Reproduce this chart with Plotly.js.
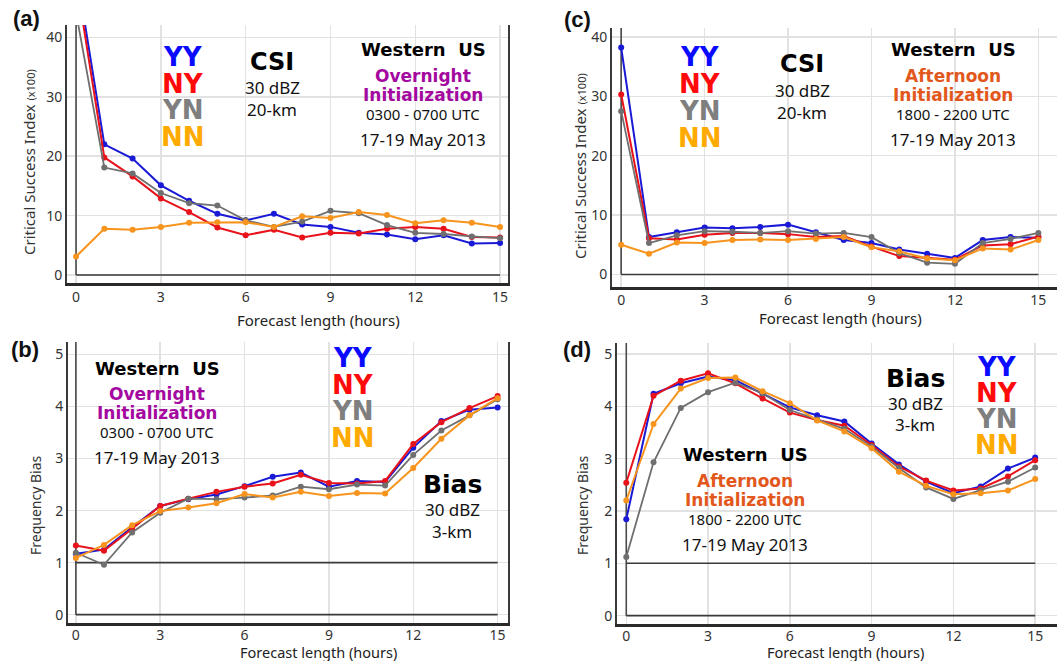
<!DOCTYPE html>
<html>
<head>
<meta charset="utf-8">
<script src="https://cdn.plot.ly/plotly-3.0.1.min.js"></script>
<style>html,body{margin:0;padding:0;background:#fff;}#chart{width:1057px;height:661px;}</style>
</head>
<body>
<div id="chart"></div>
<script>
// ---------- DATA ----------
const hours = [0,1,2,3,4,5,6,7,8,9,10,11,12,13,14,15];
const seriesNames = ["YY","NY","YN","NN"];
const xTicks = [0,3,6,9,12,15];
const csiTicks = [0,10,20,30,40];
const biasTicks = [0,1,2,3,4,5];

// (a) CSI, overnight initialization
const csiOvernightYY = [51.6,22.0,19.6,15.1,12.5,10.3,9.2,10.3,8.5,8.1,7.1,6.8,6.0,6.7,5.3,5.4];
const csiOvernightNY = [49.9,19.8,16.6,12.9,10.6,8.0,6.7,7.6,6.3,7.1,7.0,7.8,8.1,7.8,6.4,6.3];
const csiOvernightYN = [44.2,18.1,17.1,13.8,12.1,11.7,9.2,8.1,9.0,10.8,10.4,8.4,7.1,6.9,6.5,6.2];
const csiOvernightNN = [3.1,7.8,7.6,8.1,8.8,8.9,8.9,8.1,9.9,9.6,10.6,10.1,8.7,9.2,8.8,8.1];

// (b) Bias, overnight initialization
const biasOvernightYY = [1.17,1.25,1.68,2.09,2.22,2.31,2.47,2.65,2.73,2.46,2.57,2.55,3.21,3.72,3.94,3.98];
const biasOvernightNY = [1.33,1.23,1.65,2.09,2.23,2.36,2.46,2.52,2.69,2.53,2.52,2.57,3.28,3.70,3.97,4.20];
const biasOvernightYN = [1.19,0.96,1.58,1.96,2.23,2.22,2.25,2.29,2.46,2.41,2.50,2.48,3.07,3.54,3.83,4.14];
const biasOvernightNN = [1.09,1.34,1.72,1.99,2.06,2.14,2.32,2.25,2.36,2.28,2.34,2.33,2.82,3.38,3.83,4.16];

// (c) CSI, afternoon initialization
const csiAfternoonYY = [38.2,6.3,7.1,7.9,7.8,8.0,8.4,7.1,5.8,5.3,4.2,3.5,2.8,5.8,6.3,6.2];
const csiAfternoonNY = [30.3,6.1,5.9,6.7,7.0,7.0,6.8,6.3,6.5,4.7,3.1,2.8,2.5,4.9,5.1,6.4];
const csiAfternoonYN = [27.5,5.3,6.6,7.3,7.2,7.0,7.3,6.9,7.0,6.3,3.6,2.0,1.8,5.3,6.0,7.0];
const csiAfternoonNN = [5.0,3.5,5.4,5.3,5.8,5.9,5.8,6.0,6.3,4.6,3.9,2.7,2.4,4.4,4.2,5.8];

// (d) Bias, afternoon initialization
const biasAfternoonYY = [1.84,4.24,4.44,4.57,4.50,4.24,3.98,3.83,3.71,3.29,2.89,2.56,2.34,2.47,2.81,3.02];
const biasAfternoonNY = [2.54,4.20,4.49,4.63,4.44,4.15,3.88,3.74,3.63,3.26,2.85,2.58,2.39,2.43,2.66,2.97];
const biasAfternoonYN = [1.12,2.93,3.97,4.27,4.45,4.25,3.93,3.75,3.57,3.23,2.82,2.45,2.23,2.40,2.56,2.83];
const biasAfternoonNN = [2.20,3.66,4.34,4.54,4.55,4.29,4.06,3.73,3.52,3.20,2.75,2.48,2.32,2.34,2.39,2.61];

// ---------- STYLE / LAYOUT ----------
const W = 1057, H = 661;
const lineColors = {YY:"#1a1ad6", NY:"#e8121a", YN:"#6f6f6f", NN:"#f7941d"};
const textColors = {YY:"#0a0aff", NY:"#ff0a0a", YN:"#7f7f7f", NN:"#ffaa00"};
const px = x => x / W;
const py = y => 1 - y / H;

const panels = [
  {ax:"", data:[csiOvernightYY,csiOvernightNY,csiOvernightYN,csiOvernightNN],
   dom:{l:67,r:508,t:25,b:283}, xr:[-0.32,15.28], yr:[-1.35,42.1], yt:csiTicks, mirror:true, unitLines:[0], standoff:0},
  {ax:"2", data:[biasOvernightYY,biasOvernightNY,biasOvernightYN,biasOvernightNN],
   dom:{l:68,r:508,t:342,b:623}, xr:[-0.28,15.37], yr:[-0.16,5.24], yt:biasTicks, mirror:true, unitLines:[0,1], standoff:-2},
  {ax:"3", data:[csiAfternoonYY,csiAfternoonNY,csiAfternoonYN,csiAfternoonNN],
   dom:{l:612,r:1057,t:28,b:287}, xr:[-0.33,15.67], yr:[-2.1,41.5], yt:csiTicks, mirror:false, unitLines:[0], standoff:-1},
  {ax:"4", data:[biasAfternoonYY,biasAfternoonNY,biasAfternoonYN,biasAfternoonNN],
   dom:{l:617,r:1057,t:343,b:624}, xr:[-0.34,15.80], yr:[-0.16,5.21], yt:biasTicks, mirror:false, unitLines:[0,1], standoff:-2}
];

const tickFont = {family:"Noto Sans, Open Sans, sans-serif", size:14, color:"#333"};
const traces = [];
const shapes = [];
const layout = {
  width:W, height:H, margin:{l:0,r:0,t:0,b:0},
  paper_bgcolor:"#fff", plot_bgcolor:"#fff", showlegend:false,
  shapes:shapes, annotations:[]
};

panels.forEach(p => {
  const xa = "x"+p.ax, ya = "y"+p.ax;
  p.data.forEach((vals,i) => {
    const nm = seriesNames[i];
    traces.push({
      x:hours, y:vals, name:nm, type:"scatter", mode:"lines+markers",
      xaxis:xa, yaxis:ya, cliponaxis:true,
      line:{color:lineColors[nm], width: nm==="YN"?1.8:2},
      marker:{color:lineColors[nm], size:6}
    });
  });
  layout["xaxis"+p.ax] = {
    domain:[px(p.dom.l), px(p.dom.r)], range:p.xr, anchor:ya,
    tickvals:xTicks, ticks:"", showgrid:true, gridcolor:"#e2e2e2", gridwidth:1.5,
    zeroline:false, showline:true, linecolor:"#2a2a2a", linewidth:2.5,
    tickfont:tickFont, ticklabelstandoff:p.standoff, fixedrange:true
  };
  layout["yaxis"+p.ax] = {
    domain:[py(p.dom.b), py(p.dom.t)], range:p.yr, anchor:xa,
    tickvals:p.yt, ticks:"", showgrid:true, gridcolor:"#e2e2e2", gridwidth:1.5,
    zeroline:false, showline:true, mirror:p.mirror, linecolor:"#3a3a3a", linewidth:2,
    tickfont:tickFont, fixedrange:true
  };
  // reference lines at x=0 and at y = 0 (and 1 for bias)
  shapes.push({type:"line", xref:xa, yref:ya, x0:0, x1:0, y0:0, y1:p.yr[1],
               line:{color:"#4a4a4a", width:1.6}, layer:"between"});
  p.unitLines.forEach(v => shapes.push({type:"line", xref:xa, yref:ya, x0:0, x1:15, y0:v, y1:v,
               line:{color:"#3a3a3a", width:1.6}, layer:"between"}));
});

// ---------- TEXT ----------
const bold = "DejaVu Sans, Arial, sans-serif";
const reg = "Noto Sans, Open Sans, sans-serif";
function ann(x, y, text, size, color, family, extra) {
  layout.annotations.push(Object.assign({
    xref:"paper", yref:"paper", x:px(x), y:py(y), text:text, showarrow:false,
    xanchor:"center", yanchor:"middle",
    font:{family:family||reg, size:size, color:color||"#111"}
  }, extra||{}));
}
function keyBlock(cx, cy, step) {
  seriesNames.forEach((nm,i) => ann(cx, cy + i*step, "<b>"+nm+"</b>", 26, textColors[nm], bold));
}
function regionBlock(cx, cy, word, wordColor, utc) {
  ann(cx, cy, "<b>Western&nbsp; US</b>", 18, "#000", bold);
  ann(cx, cy+26, "<b>"+word+"</b>", 17, wordColor, bold);
  ann(cx, cy+45, "<b>Initialization</b>", 17, wordColor, bold);
  ann(cx, cy+64, utc, 15, "#111", reg);
  ann(cx, cy+89, "17-19 May 2013", 17, "#111", reg);
}
function metricBlock(cx, cy, word, size, res, gap) {
  ann(cx, cy, "<b>"+word+"</b>", size, "#000", bold);
  ann(cx, cy+gap, "30 dBZ", 17, "#111", reg);
  ann(cx, cy+gap+22, res, 17, "#111", reg);
}
const purple = "#a3099f", orangeRed = "#e2581c";

// panel labels
const labFont = "Liberation Sans, Arial, sans-serif";
ann(26, 18, "<b>(a)</b>", 22, "#111", labFont);
ann(577, 20, "<b>(c)</b>", 22, "#111", labFont);
ann(25, 350, "<b>(b)</b>", 22, "#111", labFont);
ann(577, 350, "<b>(d)</b>", 22, "#111", labFont);

// (a)
keyBlock(183, 57, 26.5);
metricBlock(272, 62, "CSI", 24, "20-km", 26);
regionBlock(423, 50, "Overnight", purple, "0300 - 0700 UTC");
// (c)
keyBlock(700, 57, 27);
metricBlock(802, 64, "CSI", 24, "20-km", 26);
regionBlock(953, 50, "Afternoon", orangeRed, "1800 - 2200 UTC");
// (b)
regionBlock(157, 368, "Overnight", purple, "0300 - 0700 UTC");
keyBlock(353, 358, 26.7);
metricBlock(452, 484, "Bias", 25, "3-km", 25);
// (d)
metricBlock(915, 378, "Bias", 25, "3-km", 25);
keyBlock(997, 367, 26);
regionBlock(745, 455, "Afternoon", orangeRed, "1800 - 2200 UTC");

// axis titles
ann(318, 320, "Forecast length (hours)", 15, "#222", reg);
ann(840, 318, "Forecast length (hours)", 15, "#222", reg);
ann(318, 652, "Forecast length (hours)", 14.5, "#222", reg);
ann(845, 652, "Forecast length (hours)", 14.5, "#222", reg);
const csiTitle = "Critical Success Index <span style='font-size:11px'>(x100)</span>";
ann(29, 162, csiTitle, 15, "#333", reg, {textangle:-90});
ann(580, 166, csiTitle, 15, "#333", reg, {textangle:-90});
ann(35, 505, "Frequency Bias", 14, "#333", reg, {textangle:-90});
ann(582, 505, "Frequency Bias", 14, "#333", reg, {textangle:-90});

Plotly.newPlot("chart", traces, layout, {staticPlot:true, displayModeBar:false});
</script>
</body>
</html>
